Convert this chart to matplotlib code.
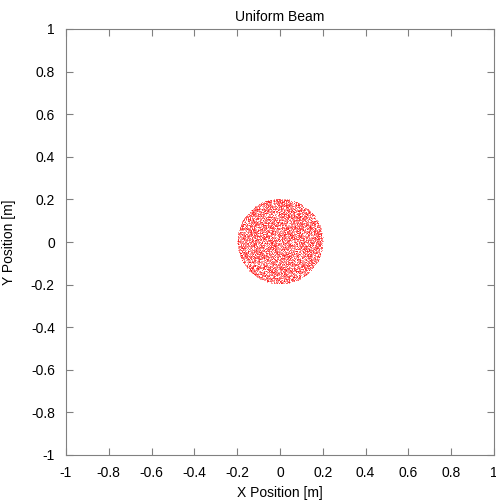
import numpy as np
import matplotlib
matplotlib.use("Agg")
import matplotlib.pyplot as plt

plt.rcParams['font.family'] = ['Liberation Sans', 'DejaVu Sans']

# Beam parameters
beam_center = [0.0, 0.0]   # m
beam_radius = 0.2          # m
n_particles = 8000

# Individual particle positions cannot be read off the picture,
# so a fixed-seed uniform sample over the disk stands in for them
rng = np.random.default_rng(1)
r = beam_radius * np.sqrt(rng.random(n_particles))
th = 2.0 * np.pi * rng.random(n_particles)
x = beam_center[0] + r * np.cos(th)
y = beam_center[1] + r * np.sin(th)

ticks = [-1, -0.8, -0.6, -0.4, -0.2, 0, 0.2, 0.4, 0.6, 0.8, 1]
tick_labels = ["-1", "-0.8", "-0.6", "-0.4", "-0.2", "0", "0.2", "0.4", "0.6", "0.8", "1"]

fig = plt.figure(figsize=(4.96, 5.0), dpi=100)
ax = fig.add_axes([0.133, 0.09, 0.863, 0.852])
ax.plot(x, y, ',', color='red', alpha=0.4)

ax.set_xlim(-1, 1)
ax.set_ylim(-1, 1)
ax.set_xticks(ticks)
ax.set_xticklabels(tick_labels)
ax.set_yticks(ticks)
ax.set_yticklabels(tick_labels)
ax.tick_params(direction='in', top=True, right=True, length=5, width=0.8,
               color='#808080', labelsize=10, pad=8)
for sp in ax.spines.values():
    sp.set_color('#808080')
    sp.set_linewidth(0.8)

ax.set_title("Uniform Beam", fontsize=10, pad=6)
ax.set_xlabel("X Position [m]", fontsize=10, labelpad=4)
ax.set_ylabel("Y Position [m]", fontsize=10, labelpad=11)

fig.savefig("out.png", dpi=100)
